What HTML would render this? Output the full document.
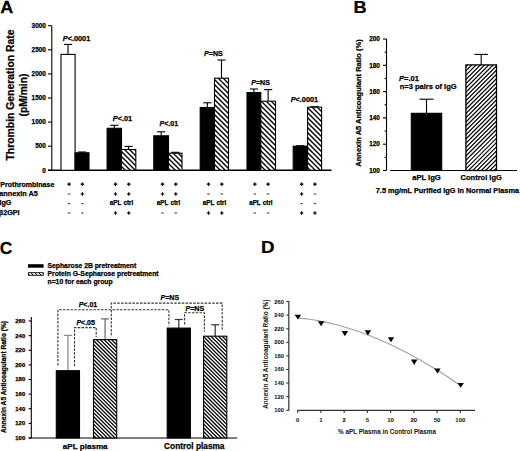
<!DOCTYPE html><html><head><meta charset="utf-8"><style>html,body{margin:0;padding:0;background:#fff;}svg{display:block;}text{font-family:"Liberation Sans", sans-serif;fill:#000;stroke:#000;stroke-width:0.25px;} .lt{stroke-width:0.05px;fill:#1a1a1a;}</style></head><body>
<svg width="520" height="451" viewBox="0 0 520 451">
<rect width="520" height="451" fill="#fff"/>
<text transform="translate(0.3,12.8) scale(1.06,1)" font-size="17" font-weight="bold">A</text>
<line x1="51.8" y1="25.69999999999999" x2="51.8" y2="170.3" stroke="#000" stroke-width="1.1" />
<line x1="48" y1="170.3" x2="51.8" y2="170.3" stroke="#000" stroke-width="1.1" />
<text x="45.8" y="172.5" font-size="6.4" text-anchor="end" font-weight="bold" >0</text>
<line x1="48" y1="146.20000000000002" x2="51.8" y2="146.20000000000002" stroke="#000" stroke-width="1.1" />
<text x="45.8" y="148.4" font-size="6.4" text-anchor="end" font-weight="bold" >500</text>
<line x1="48" y1="122.10000000000001" x2="51.8" y2="122.10000000000001" stroke="#000" stroke-width="1.1" />
<text x="45.8" y="124.30000000000001" font-size="6.4" text-anchor="end" font-weight="bold" >1000</text>
<line x1="48" y1="98.0" x2="51.8" y2="98.0" stroke="#000" stroke-width="1.1" />
<text x="45.8" y="100.2" font-size="6.4" text-anchor="end" font-weight="bold" >1500</text>
<line x1="48" y1="73.9" x2="51.8" y2="73.9" stroke="#000" stroke-width="1.1" />
<text x="45.8" y="76.10000000000001" font-size="6.4" text-anchor="end" font-weight="bold" >2000</text>
<line x1="48" y1="49.80000000000001" x2="51.8" y2="49.80000000000001" stroke="#000" stroke-width="1.1" />
<text x="45.8" y="52.000000000000014" font-size="6.4" text-anchor="end" font-weight="bold" >2500</text>
<line x1="48" y1="25.69999999999999" x2="51.8" y2="25.69999999999999" stroke="#000" stroke-width="1.1" />
<text x="45.8" y="27.899999999999988" font-size="6.4" text-anchor="end" font-weight="bold" >3000</text>
<line x1="48" y1="170.3" x2="331.5" y2="170.3" stroke="#000" stroke-width="1.4" />
<text transform="translate(14.2,95) rotate(-90)" font-size="10.4" text-anchor="middle" font-weight="bold">Thrombin Generation Rate</text>
<text transform="translate(26.7,95) rotate(-90)" font-size="10.3" text-anchor="middle" font-weight="bold">(pM/min)</text>
<line x1="68.05" y1="54.4" x2="68.05" y2="44.4" stroke="#000" stroke-width="1.1" />
<line x1="63.949999999999996" y1="44.4" x2="72.14999999999999" y2="44.4" stroke="#000" stroke-width="1.1" />
<rect x="61.0" y="54.4" width="14.099999999999994" height="115.9" fill="#fff" stroke="#000" stroke-width="1.1"/>
<line x1="82.05" y1="152.8" x2="82.05" y2="152.0" stroke="#000" stroke-width="1.1" />
<line x1="77.95" y1="152.0" x2="86.14999999999999" y2="152.0" stroke="#000" stroke-width="1.1" />
<rect x="75.1" y="152.8" width="13.900000000000006" height="17.5" fill="#000" stroke="#000" stroke-width="1.1"/>
<line x1="114.3" y1="128.3" x2="114.3" y2="125.3" stroke="#000" stroke-width="1.1" />
<line x1="110.2" y1="125.3" x2="118.39999999999999" y2="125.3" stroke="#000" stroke-width="1.1" />
<rect x="107.1" y="128.3" width="14.400000000000006" height="42.0" fill="#000" stroke="#000" stroke-width="1.1"/>
<line x1="128.65" y1="149.5" x2="128.65" y2="146.4" stroke="#000" stroke-width="1.1" />
<line x1="124.55000000000001" y1="146.4" x2="132.75" y2="146.4" stroke="#000" stroke-width="1.1" />
<clipPath id="c1"><rect x="121.5" y="149.5" width="14.300000000000011" height="20.80000000000001"/></clipPath>
<rect x="121.5" y="149.5" width="14.300000000000011" height="20.80000000000001" fill="#fff"/>
<path clip-path="url(#c1)" d="M97.50,147.50L122.30,172.30M102.50,147.50L127.30,172.30M107.50,147.50L132.30,172.30M112.50,147.50L137.30,172.30M117.50,147.50L142.30,172.30M122.50,147.50L147.30,172.30M127.50,147.50L152.30,172.30M132.50,147.50L157.30,172.30M137.50,147.50L162.30,172.30" stroke="#000" stroke-width="1.35" fill="none"/>
<rect x="121.5" y="149.5" width="14.300000000000011" height="20.80000000000001" fill="none" stroke="#000" stroke-width="1.1"/>
<line x1="161.15" y1="135.8" x2="161.15" y2="131.8" stroke="#000" stroke-width="1.1" />
<line x1="157.05" y1="131.8" x2="165.25" y2="131.8" stroke="#000" stroke-width="1.1" />
<rect x="153.8" y="135.8" width="14.699999999999989" height="34.5" fill="#000" stroke="#000" stroke-width="1.1"/>
<line x1="175.25" y1="153.2" x2="175.25" y2="152.3" stroke="#000" stroke-width="1.1" />
<line x1="171.15" y1="152.3" x2="179.35" y2="152.3" stroke="#000" stroke-width="1.1" />
<clipPath id="c2"><rect x="168.5" y="153.2" width="13.5" height="17.100000000000023"/></clipPath>
<rect x="168.5" y="153.2" width="13.5" height="17.100000000000023" fill="#fff"/>
<path clip-path="url(#c2)" d="M146.20,151.20L167.30,172.30M151.20,151.20L172.30,172.30M156.20,151.20L177.30,172.30M161.20,151.20L182.30,172.30M166.20,151.20L187.30,172.30M171.20,151.20L192.30,172.30M176.20,151.20L197.30,172.30M181.20,151.20L202.30,172.30" stroke="#000" stroke-width="1.35" fill="none"/>
<rect x="168.5" y="153.2" width="13.5" height="17.100000000000023" fill="none" stroke="#000" stroke-width="1.1"/>
<line x1="207.35" y1="107.5" x2="207.35" y2="102.8" stroke="#000" stroke-width="1.1" />
<line x1="203.25" y1="102.8" x2="211.45" y2="102.8" stroke="#000" stroke-width="1.1" />
<rect x="200.2" y="107.5" width="14.300000000000011" height="62.80000000000001" fill="#000" stroke="#000" stroke-width="1.1"/>
<line x1="221.5" y1="78.2" x2="221.5" y2="60" stroke="#000" stroke-width="1.1" />
<line x1="217.4" y1="60" x2="225.6" y2="60" stroke="#000" stroke-width="1.1" />
<clipPath id="c3"><rect x="214.5" y="78.2" width="14.0" height="92.10000000000001"/></clipPath>
<rect x="214.5" y="78.2" width="14.0" height="92.10000000000001" fill="#fff"/>
<path clip-path="url(#c3)" d="M116.20,76.20L212.30,172.30M121.20,76.20L217.30,172.30M126.20,76.20L222.30,172.30M131.20,76.20L227.30,172.30M136.20,76.20L232.30,172.30M141.20,76.20L237.30,172.30M146.20,76.20L242.30,172.30M151.20,76.20L247.30,172.30M156.20,76.20L252.30,172.30M161.20,76.20L257.30,172.30M166.20,76.20L262.30,172.30M171.20,76.20L267.30,172.30M176.20,76.20L272.30,172.30M181.20,76.20L277.30,172.30M186.20,76.20L282.30,172.30M191.20,76.20L287.30,172.30M196.20,76.20L292.30,172.30M201.20,76.20L297.30,172.30M206.20,76.20L302.30,172.30M211.20,76.20L307.30,172.30M216.20,76.20L312.30,172.30M221.20,76.20L317.30,172.30M226.20,76.20L322.30,172.30M231.20,76.20L327.30,172.30" stroke="#000" stroke-width="1.35" fill="none"/>
<rect x="214.5" y="78.2" width="14.0" height="92.10000000000001" fill="none" stroke="#000" stroke-width="1.1"/>
<line x1="253.9" y1="92.5" x2="253.9" y2="89.0" stroke="#000" stroke-width="1.1" />
<line x1="249.8" y1="89.0" x2="258.0" y2="89.0" stroke="#000" stroke-width="1.1" />
<rect x="247.0" y="92.5" width="13.800000000000011" height="77.80000000000001" fill="#000" stroke="#000" stroke-width="1.1"/>
<line x1="268.15" y1="101.2" x2="268.15" y2="89.6" stroke="#000" stroke-width="1.1" />
<line x1="264.04999999999995" y1="89.6" x2="272.25" y2="89.6" stroke="#000" stroke-width="1.1" />
<clipPath id="c4"><rect x="260.8" y="101.2" width="14.699999999999989" height="69.10000000000001"/></clipPath>
<rect x="260.8" y="101.2" width="14.699999999999989" height="69.10000000000001" fill="#fff"/>
<path clip-path="url(#c4)" d="M189.20,99.20L262.30,172.30M194.20,99.20L267.30,172.30M199.20,99.20L272.30,172.30M204.20,99.20L277.30,172.30M209.20,99.20L282.30,172.30M214.20,99.20L287.30,172.30M219.20,99.20L292.30,172.30M224.20,99.20L297.30,172.30M229.20,99.20L302.30,172.30M234.20,99.20L307.30,172.30M239.20,99.20L312.30,172.30M244.20,99.20L317.30,172.30M249.20,99.20L322.30,172.30M254.20,99.20L327.30,172.30M259.20,99.20L332.30,172.30M264.20,99.20L337.30,172.30M269.20,99.20L342.30,172.30M274.20,99.20L347.30,172.30" stroke="#000" stroke-width="1.35" fill="none"/>
<rect x="260.8" y="101.2" width="14.699999999999989" height="69.10000000000001" fill="none" stroke="#000" stroke-width="1.1"/>
<line x1="300.4" y1="146.2" x2="300.4" y2="145.7" stroke="#000" stroke-width="1.1" />
<line x1="296.29999999999995" y1="145.7" x2="304.5" y2="145.7" stroke="#000" stroke-width="1.1" />
<rect x="293.2" y="146.2" width="14.400000000000034" height="24.100000000000023" fill="#000" stroke="#000" stroke-width="1.1"/>
<line x1="314.6" y1="107.2" x2="314.6" y2="106.7" stroke="#000" stroke-width="1.1" />
<line x1="310.5" y1="106.7" x2="318.70000000000005" y2="106.7" stroke="#000" stroke-width="1.1" />
<clipPath id="c5"><rect x="307.6" y="107.2" width="14.0" height="63.10000000000001"/></clipPath>
<rect x="307.6" y="107.2" width="14.0" height="63.10000000000001" fill="#fff"/>
<path clip-path="url(#c5)" d="M240.20,105.20L307.30,172.30M245.20,105.20L312.30,172.30M250.20,105.20L317.30,172.30M255.20,105.20L322.30,172.30M260.20,105.20L327.30,172.30M265.20,105.20L332.30,172.30M270.20,105.20L337.30,172.30M275.20,105.20L342.30,172.30M280.20,105.20L347.30,172.30M285.20,105.20L352.30,172.30M290.20,105.20L357.30,172.30M295.20,105.20L362.30,172.30M300.20,105.20L367.30,172.30M305.20,105.20L372.30,172.30M310.20,105.20L377.30,172.30M315.20,105.20L382.30,172.30M320.20,105.20L387.30,172.30" stroke="#000" stroke-width="1.35" fill="none"/>
<rect x="307.6" y="107.2" width="14.0" height="63.10000000000001" fill="none" stroke="#000" stroke-width="1.1"/>
<text x="62.8" y="40.5" font-size="7.3" text-anchor="start" font-weight="bold"><tspan font-style="italic">P</tspan>&lt;.0001</text>
<text x="112.7" y="121.2" font-size="7.4" text-anchor="start" font-weight="bold"><tspan font-style="italic">P</tspan>&lt;.01</text>
<text x="159.4" y="126.4" font-size="7.1" text-anchor="start" font-weight="bold"><tspan font-style="italic">P</tspan>&lt;.01</text>
<text x="204" y="55.6" font-size="7.1" text-anchor="start" font-weight="bold"><tspan font-style="italic">P</tspan>=NS</text>
<text x="251.2" y="84.7" font-size="7.1" text-anchor="start" font-weight="bold"><tspan font-style="italic">P</tspan>=NS</text>
<text x="290.7" y="102.2" font-size="7.3" text-anchor="start" font-weight="bold"><tspan font-style="italic">P</tspan>&lt;.0001</text>
<text x="0.3" y="187.3" font-size="7.05" text-anchor="start" font-weight="bold" >Prothrombinase</text>
<text x="-0.8" y="196.2" font-size="7.3" text-anchor="start" font-weight="bold" >annexin A5</text>
<text x="-0.6" y="205.3" font-size="7.2" text-anchor="start" font-weight="bold" >IgG</text>
<text x="-1.2" y="214.6" font-size="7.2" text-anchor="start" font-weight="bold" >&#946;2GPI</text>
<path d="M67.30,184.20 H70.90 M69.10,182.40 V186.00" stroke="#000" stroke-width="1.2"/>
<path d="M80.60,184.20 H84.20 M82.40,182.40 V186.00" stroke="#000" stroke-width="1.2"/>
<path d="M67.80,194.00 H70.40" stroke="#333" stroke-width="1"/>
<path d="M80.60,194.00 H84.20 M82.40,192.20 V195.80" stroke="#000" stroke-width="1.2"/>
<path d="M67.80,203.70 H70.40" stroke="#333" stroke-width="1"/>
<path d="M81.10,203.70 H83.70" stroke="#333" stroke-width="1"/>
<path d="M67.80,213.00 H70.40" stroke="#333" stroke-width="1"/>
<path d="M81.10,213.00 H83.70" stroke="#333" stroke-width="1"/>
<path d="M113.70,184.20 H117.30 M115.50,182.40 V186.00" stroke="#000" stroke-width="1.2"/>
<path d="M127.00,184.20 H130.60 M128.80,182.40 V186.00" stroke="#000" stroke-width="1.2"/>
<path d="M113.70,194.00 H117.30 M115.50,192.20 V195.80" stroke="#000" stroke-width="1.2"/>
<path d="M127.00,194.00 H130.60 M128.80,192.20 V195.80" stroke="#000" stroke-width="1.2"/>
<text x="121.4" y="204.7" font-size="6.3" text-anchor="end" font-weight="bold" >aPL</text>
<text x="123.5" y="204.7" font-size="6.3" text-anchor="start" font-weight="bold" >ctrl</text>
<path d="M113.70,213.00 H117.30 M115.50,211.20 V214.80" stroke="#000" stroke-width="1.2"/>
<path d="M127.00,213.00 H130.60 M128.80,211.20 V214.80" stroke="#000" stroke-width="1.2"/>
<path d="M160.70,184.20 H164.30 M162.50,182.40 V186.00" stroke="#000" stroke-width="1.2"/>
<path d="M174.00,184.20 H177.60 M175.80,182.40 V186.00" stroke="#000" stroke-width="1.2"/>
<path d="M160.70,194.00 H164.30 M162.50,192.20 V195.80" stroke="#000" stroke-width="1.2"/>
<path d="M174.00,194.00 H177.60 M175.80,192.20 V195.80" stroke="#000" stroke-width="1.2"/>
<text x="168.4" y="204.7" font-size="6.3" text-anchor="end" font-weight="bold" >aPL</text>
<text x="170.5" y="204.7" font-size="6.3" text-anchor="start" font-weight="bold" >ctrl</text>
<path d="M161.20,213.00 H163.80" stroke="#333" stroke-width="1"/>
<path d="M174.50,213.00 H177.10" stroke="#333" stroke-width="1"/>
<path d="M206.70,184.20 H210.30 M208.50,182.40 V186.00" stroke="#000" stroke-width="1.2"/>
<path d="M220.00,184.20 H223.60 M221.80,182.40 V186.00" stroke="#000" stroke-width="1.2"/>
<path d="M207.20,194.00 H209.80" stroke="#333" stroke-width="1"/>
<path d="M220.50,194.00 H223.10" stroke="#333" stroke-width="1"/>
<text x="214.4" y="204.7" font-size="6.3" text-anchor="end" font-weight="bold" >aPL</text>
<text x="216.5" y="204.7" font-size="6.3" text-anchor="start" font-weight="bold" >ctrl</text>
<path d="M206.70,213.00 H210.30 M208.50,211.20 V214.80" stroke="#000" stroke-width="1.2"/>
<path d="M220.00,213.00 H223.60 M221.80,211.20 V214.80" stroke="#000" stroke-width="1.2"/>
<path d="M253.00,184.20 H256.60 M254.80,182.40 V186.00" stroke="#000" stroke-width="1.2"/>
<path d="M266.30,184.20 H269.90 M268.10,182.40 V186.00" stroke="#000" stroke-width="1.2"/>
<path d="M253.50,194.00 H256.10" stroke="#333" stroke-width="1"/>
<path d="M266.80,194.00 H269.40" stroke="#333" stroke-width="1"/>
<text x="260.7" y="204.7" font-size="6.3" text-anchor="end" font-weight="bold" >aPL</text>
<text x="262.8" y="204.7" font-size="6.3" text-anchor="start" font-weight="bold" >ctrl</text>
<path d="M253.50,213.00 H256.10" stroke="#333" stroke-width="1"/>
<path d="M266.80,213.00 H269.40" stroke="#333" stroke-width="1"/>
<path d="M299.80,184.20 H303.40 M301.60,182.40 V186.00" stroke="#000" stroke-width="1.2"/>
<path d="M313.10,184.20 H316.70 M314.90,182.40 V186.00" stroke="#000" stroke-width="1.2"/>
<path d="M299.80,194.00 H303.40 M301.60,192.20 V195.80" stroke="#000" stroke-width="1.2"/>
<path d="M313.60,194.00 H316.20" stroke="#333" stroke-width="1"/>
<path d="M300.30,203.70 H302.90" stroke="#333" stroke-width="1"/>
<path d="M313.60,203.70 H316.20" stroke="#333" stroke-width="1"/>
<path d="M299.80,213.00 H303.40 M301.60,211.20 V214.80" stroke="#000" stroke-width="1.2"/>
<path d="M313.10,213.00 H316.70 M314.90,211.20 V214.80" stroke="#000" stroke-width="1.2"/>
<text transform="translate(353.6,12.9) scale(1.1,1)" font-size="16.5" font-weight="bold">B</text>
<line x1="386.5" y1="39.0" x2="386.5" y2="170.5" stroke="#000" stroke-width="1.1" />
<line x1="383" y1="170.5" x2="386.5" y2="170.5" stroke="#000" stroke-width="1.1" />
<text x="379.8" y="172.7" font-size="6.4" text-anchor="end" font-weight="bold" >100</text>
<line x1="384.6" y1="157.35" x2="386.5" y2="157.35" stroke="#000" stroke-width="1.1" />
<line x1="383" y1="144.2" x2="386.5" y2="144.2" stroke="#000" stroke-width="1.1" />
<text x="379.8" y="146.39999999999998" font-size="6.4" text-anchor="end" font-weight="bold" >120</text>
<line x1="384.6" y1="131.05" x2="386.5" y2="131.05" stroke="#000" stroke-width="1.1" />
<line x1="383" y1="117.9" x2="386.5" y2="117.9" stroke="#000" stroke-width="1.1" />
<text x="379.8" y="120.10000000000001" font-size="6.4" text-anchor="end" font-weight="bold" >140</text>
<line x1="384.6" y1="104.75" x2="386.5" y2="104.75" stroke="#000" stroke-width="1.1" />
<line x1="383" y1="91.60000000000001" x2="386.5" y2="91.60000000000001" stroke="#000" stroke-width="1.1" />
<text x="379.8" y="93.80000000000001" font-size="6.4" text-anchor="end" font-weight="bold" >160</text>
<line x1="384.6" y1="78.45" x2="386.5" y2="78.45" stroke="#000" stroke-width="1.1" />
<line x1="383" y1="65.30000000000001" x2="386.5" y2="65.30000000000001" stroke="#000" stroke-width="1.1" />
<text x="379.8" y="67.50000000000001" font-size="6.4" text-anchor="end" font-weight="bold" >180</text>
<line x1="384.6" y1="52.150000000000006" x2="386.5" y2="52.150000000000006" stroke="#000" stroke-width="1.1" />
<line x1="383" y1="39.0" x2="386.5" y2="39.0" stroke="#000" stroke-width="1.1" />
<text x="379.8" y="41.2" font-size="6.4" text-anchor="end" font-weight="bold" >200</text>
<line x1="390.3" y1="170.5" x2="517" y2="170.5" stroke="#000" stroke-width="1.2" />
<text transform="translate(360.6,103) rotate(-90)" font-size="7.5" text-anchor="middle" font-weight="bold">Annexin A5 Anticoagulant Ratio (%)</text>
<line x1="426.5" y1="113.3" x2="426.5" y2="99.2" stroke="#000" stroke-width="1.1" />
<line x1="419.5" y1="99.2" x2="433.5" y2="99.2" stroke="#000" stroke-width="1.1" />
<rect x="411.3" y="113.3" width="30.4" height="57.2" fill="#000" stroke="#000" stroke-width="1.1"/>
<line x1="481.2" y1="64.9" x2="481.2" y2="54.4" stroke="#000" stroke-width="1.1" />
<line x1="474.4" y1="54.4" x2="488.0" y2="54.4" stroke="#000" stroke-width="1.1" />
<clipPath id="c6"><rect x="465.9" y="64.9" width="30.6" height="105.6"/></clipPath>
<rect x="465.9" y="64.9" width="30.6" height="105.6" fill="#fff"/>
<path clip-path="url(#c6)" d="M465.34,62.90L355.74,172.50M469.60,62.90L360.00,172.50M473.86,62.90L364.26,172.50M478.12,62.90L368.52,172.50M482.38,62.90L372.78,172.50M486.64,62.90L377.04,172.50M490.90,62.90L381.30,172.50M495.16,62.90L385.56,172.50M499.42,62.90L389.82,172.50M503.68,62.90L394.08,172.50M507.94,62.90L398.34,172.50M512.20,62.90L402.60,172.50M516.46,62.90L406.86,172.50M520.72,62.90L411.12,172.50M524.98,62.90L415.38,172.50M529.24,62.90L419.64,172.50M533.50,62.90L423.90,172.50M537.76,62.90L428.16,172.50M542.02,62.90L432.42,172.50M546.28,62.90L436.68,172.50M550.54,62.90L440.94,172.50M554.80,62.90L445.20,172.50M559.06,62.90L449.46,172.50M563.32,62.90L453.72,172.50M567.58,62.90L457.98,172.50M571.84,62.90L462.24,172.50M576.10,62.90L466.50,172.50M580.36,62.90L470.76,172.50M584.62,62.90L475.02,172.50M588.88,62.90L479.28,172.50M593.14,62.90L483.54,172.50M597.40,62.90L487.80,172.50M601.66,62.90L492.06,172.50M605.92,62.90L496.32,172.50" stroke="#000" stroke-width="1.2" fill="none"/>
<rect x="465.9" y="64.9" width="30.6" height="105.6" fill="none" stroke="#000" stroke-width="1.3"/>
<text x="399" y="80.6" font-size="7.5" text-anchor="start" font-weight="bold"><tspan font-style="italic">P</tspan>=.01</text>
<text x="399.7" y="88.9" font-size="7.5" text-anchor="start" font-weight="bold" >n=3 pairs of IgG</text>
<text x="426.5" y="180.2" font-size="7.6" text-anchor="middle" font-weight="bold" >aPL IgG</text>
<text x="481.2" y="180.2" font-size="7.5" text-anchor="middle" font-weight="bold" >Control IgG</text>
<text x="375.8" y="193.2" font-size="7.34" text-anchor="start" font-weight="bold" >7.5 mg/mL Purified IgG in Normal Plasma</text>
<text transform="translate(-0.2,253.6) scale(1.02,1)" font-size="17" font-weight="bold">C</text>
<rect x="28.0" y="264.2" width="15.6" height="3.5" fill="#000" stroke="none" stroke-width="0"/>
<clipPath id="c7"><rect x="28.45" y="272.7" width="14.8" height="2.6"/></clipPath>
<rect x="28.45" y="272.7" width="14.8" height="2.6" fill="#fff"/>
<path clip-path="url(#c7)" d="M21.10,270.70L27.70,277.30M25.00,270.70L31.60,277.30M28.90,270.70L35.50,277.30M32.80,270.70L39.40,277.30M36.70,270.70L43.30,277.30M40.60,270.70L47.20,277.30M44.50,270.70L51.10,277.30" stroke="#000" stroke-width="1.0" fill="none"/>
<rect x="28.45" y="272.7" width="14.8" height="2.6" fill="none" stroke="#000" stroke-width="0.9"/>
<text x="47.5" y="268.1" font-size="6.8" text-anchor="start" font-weight="bold" >Sepharose 2B pretreatment</text>
<text x="47.5" y="276.1" font-size="6.8" text-anchor="start" font-weight="bold" >Protein G-Sepharose pretreatment</text>
<text x="47.5" y="284.0" font-size="6.8" text-anchor="start" font-weight="bold" >n=10 for each group</text>
<line x1="31.3" y1="317" x2="31.3" y2="438.2" stroke="#000" stroke-width="1.1" />
<line x1="28.6" y1="438.0" x2="31.3" y2="438.0" stroke="#000" stroke-width="1.1" />
<text x="25.2" y="440.0" font-size="5.9" text-anchor="end" font-weight="bold" >100</text>
<line x1="28.6" y1="423.374" x2="31.3" y2="423.374" stroke="#000" stroke-width="1.1" />
<text x="25.2" y="425.374" font-size="5.9" text-anchor="end" font-weight="bold" >120</text>
<line x1="28.6" y1="408.748" x2="31.3" y2="408.748" stroke="#000" stroke-width="1.1" />
<text x="25.2" y="410.748" font-size="5.9" text-anchor="end" font-weight="bold" >140</text>
<line x1="28.6" y1="394.122" x2="31.3" y2="394.122" stroke="#000" stroke-width="1.1" />
<text x="25.2" y="396.122" font-size="5.9" text-anchor="end" font-weight="bold" >160</text>
<line x1="28.6" y1="379.496" x2="31.3" y2="379.496" stroke="#000" stroke-width="1.1" />
<text x="25.2" y="381.496" font-size="5.9" text-anchor="end" font-weight="bold" >180</text>
<line x1="28.6" y1="364.87" x2="31.3" y2="364.87" stroke="#000" stroke-width="1.1" />
<text x="25.2" y="366.87" font-size="5.9" text-anchor="end" font-weight="bold" >200</text>
<line x1="28.6" y1="350.244" x2="31.3" y2="350.244" stroke="#000" stroke-width="1.1" />
<text x="25.2" y="352.244" font-size="5.9" text-anchor="end" font-weight="bold" >220</text>
<line x1="28.6" y1="335.618" x2="31.3" y2="335.618" stroke="#000" stroke-width="1.1" />
<text x="25.2" y="337.618" font-size="5.9" text-anchor="end" font-weight="bold" >240</text>
<line x1="28.6" y1="320.992" x2="31.3" y2="320.992" stroke="#000" stroke-width="1.1" />
<text x="25.2" y="322.992" font-size="5.9" text-anchor="end" font-weight="bold" >260</text>
<line x1="28.6" y1="438" x2="237.2" y2="438" stroke="#000" stroke-width="1.2" />
<text transform="translate(6.1,377) rotate(-90)" font-size="6.6" text-anchor="middle" font-weight="bold">Annexin A5 Anticoagulant Ratio (%)</text>
<line x1="67.89999999999999" y1="370.7" x2="67.89999999999999" y2="335.4" stroke="#8a8a8a" stroke-width="1.2" />
<line x1="63.89999999999999" y1="335.4" x2="71.89999999999999" y2="335.4" stroke="#8a8a8a" stroke-width="1.2" />
<rect x="56.3" y="370.7" width="23.2" height="67.30000000000001" fill="#000" stroke="#000" stroke-width="1.1"/>
<line x1="105.1" y1="339.6" x2="105.1" y2="318.9" stroke="#666" stroke-width="1.2" />
<line x1="101.1" y1="318.9" x2="109.1" y2="318.9" stroke="#666" stroke-width="1.2" />
<clipPath id="c8"><rect x="93.5" y="339.6" width="23.2" height="98.39999999999998"/></clipPath>
<rect x="93.5" y="339.6" width="23.2" height="98.39999999999998" fill="#fff"/>
<path clip-path="url(#c8)" d="M-8.20,337.60L94.20,440.00M-4.40,337.60L98.00,440.00M-0.60,337.60L101.80,440.00M3.20,337.60L105.60,440.00M7.00,337.60L109.40,440.00M10.80,337.60L113.20,440.00M14.60,337.60L117.00,440.00M18.40,337.60L120.80,440.00M22.20,337.60L124.60,440.00M26.00,337.60L128.40,440.00M29.80,337.60L132.20,440.00M33.60,337.60L136.00,440.00M37.40,337.60L139.80,440.00M41.20,337.60L143.60,440.00M45.00,337.60L147.40,440.00M48.80,337.60L151.20,440.00M52.60,337.60L155.00,440.00M56.40,337.60L158.80,440.00M60.20,337.60L162.60,440.00M64.00,337.60L166.40,440.00M67.80,337.60L170.20,440.00M71.60,337.60L174.00,440.00M75.40,337.60L177.80,440.00M79.20,337.60L181.60,440.00M83.00,337.60L185.40,440.00M86.80,337.60L189.20,440.00M90.60,337.60L193.00,440.00M94.40,337.60L196.80,440.00M98.20,337.60L200.60,440.00M102.00,337.60L204.40,440.00M105.80,337.60L208.20,440.00M109.60,337.60L212.00,440.00M113.40,337.60L215.80,440.00M117.20,337.60L219.60,440.00" stroke="#000" stroke-width="1.25" fill="none"/>
<rect x="93.5" y="339.6" width="23.2" height="98.39999999999998" fill="none" stroke="#000" stroke-width="1.1"/>
<line x1="178.79999999999998" y1="328.1" x2="178.79999999999998" y2="319.5" stroke="#333" stroke-width="1.2" />
<line x1="174.79999999999998" y1="319.5" x2="182.79999999999998" y2="319.5" stroke="#333" stroke-width="1.2" />
<rect x="167.2" y="328.1" width="23.2" height="109.89999999999998" fill="#000" stroke="#000" stroke-width="1.1"/>
<line x1="215.2" y1="336.2" x2="215.2" y2="324.8" stroke="#333" stroke-width="1.2" />
<line x1="211.2" y1="324.8" x2="219.2" y2="324.8" stroke="#333" stroke-width="1.2" />
<clipPath id="c9"><rect x="203.6" y="336.2" width="23.2" height="101.80000000000001"/></clipPath>
<rect x="203.6" y="336.2" width="23.2" height="101.80000000000001" fill="#fff"/>
<path clip-path="url(#c9)" d="M98.60,334.20L204.40,440.00M102.40,334.20L208.20,440.00M106.20,334.20L212.00,440.00M110.00,334.20L215.80,440.00M113.80,334.20L219.60,440.00M117.60,334.20L223.40,440.00M121.40,334.20L227.20,440.00M125.20,334.20L231.00,440.00M129.00,334.20L234.80,440.00M132.80,334.20L238.60,440.00M136.60,334.20L242.40,440.00M140.40,334.20L246.20,440.00M144.20,334.20L250.00,440.00M148.00,334.20L253.80,440.00M151.80,334.20L257.60,440.00M155.60,334.20L261.40,440.00M159.40,334.20L265.20,440.00M163.20,334.20L269.00,440.00M167.00,334.20L272.80,440.00M170.80,334.20L276.60,440.00M174.60,334.20L280.40,440.00M178.40,334.20L284.20,440.00M182.20,334.20L288.00,440.00M186.00,334.20L291.80,440.00M189.80,334.20L295.60,440.00M193.60,334.20L299.40,440.00M197.40,334.20L303.20,440.00M201.20,334.20L307.00,440.00M205.00,334.20L310.80,440.00M208.80,334.20L314.60,440.00M212.60,334.20L318.40,440.00M216.40,334.20L322.20,440.00M220.20,334.20L326.00,440.00M224.00,334.20L329.80,440.00M227.80,334.20L333.60,440.00" stroke="#000" stroke-width="1.25" fill="none"/>
<rect x="203.6" y="336.2" width="23.2" height="101.80000000000001" fill="none" stroke="#000" stroke-width="1.1"/>
<path d="M57.9,365.4 L57.9,309.7 L168.9,309.7 L168.9,326.0" fill="none" stroke="#333" stroke-width="1.1" stroke-dasharray="2.5,1.3"/>
<path d="M74.5,366.2 L74.5,327.6 L96.2,327.6 L96.2,337.2" fill="none" stroke="#333" stroke-width="1.1" stroke-dasharray="2.5,1.3"/>
<path d="M111.3,335.2 L111.3,303.1 L222.2,303.1 L222.2,330.5" fill="none" stroke="#333" stroke-width="1.1" stroke-dasharray="2.5,1.3"/>
<path d="M184.6,324.4 L184.6,312.7 L204.4,312.7 L204.4,331.7" fill="none" stroke="#333" stroke-width="1.1" stroke-dasharray="2.5,1.3"/>
<text x="78.7" y="306.6" font-size="7.0" text-anchor="start" font-weight="bold"><tspan font-style="italic">P</tspan>&lt;.01</text>
<text x="76.4" y="324.8" font-size="7.0" text-anchor="start" font-weight="bold"><tspan font-style="italic">P</tspan>&lt;.05</text>
<text x="160.6" y="299.8" font-size="7.0" text-anchor="start" font-weight="bold"><tspan font-style="italic">P</tspan>=NS</text>
<text x="185.6" y="310.8" font-size="7.0" text-anchor="start" font-weight="bold"><tspan font-style="italic">P</tspan>=NS</text>
<text x="85.2" y="448.7" font-size="8.1" text-anchor="middle" font-weight="bold" >aPL plasma</text>
<text x="194.3" y="448.8" font-size="8.3" text-anchor="middle" font-weight="bold" >Control plasma</text>
<text transform="translate(260.9,253.4) scale(1.1,1)" font-size="17" font-weight="bold">D</text>
<line x1="288.8" y1="301.05999999999995" x2="288.8" y2="410.7" stroke="#333" stroke-width="1.2" />
<line x1="286.3" y1="410.2" x2="288.8" y2="410.2" stroke="#333" stroke-width="1.1" />
<text x="284.0" y="412.2" font-size="5.8" text-anchor="end" font-weight="bold" class="lt">100</text>
<line x1="286.3" y1="396.62" x2="288.8" y2="396.62" stroke="#333" stroke-width="1.1" />
<text x="284.0" y="398.62" font-size="5.8" text-anchor="end" font-weight="bold" class="lt">120</text>
<line x1="286.3" y1="383.03999999999996" x2="288.8" y2="383.03999999999996" stroke="#333" stroke-width="1.1" />
<text x="284.0" y="385.03999999999996" font-size="5.8" text-anchor="end" font-weight="bold" class="lt">140</text>
<line x1="286.3" y1="369.46" x2="288.8" y2="369.46" stroke="#333" stroke-width="1.1" />
<text x="284.0" y="371.46" font-size="5.8" text-anchor="end" font-weight="bold" class="lt">160</text>
<line x1="286.3" y1="355.88" x2="288.8" y2="355.88" stroke="#333" stroke-width="1.1" />
<text x="284.0" y="357.88" font-size="5.8" text-anchor="end" font-weight="bold" class="lt">180</text>
<line x1="286.3" y1="342.29999999999995" x2="288.8" y2="342.29999999999995" stroke="#333" stroke-width="1.1" />
<text x="284.0" y="344.29999999999995" font-size="5.8" text-anchor="end" font-weight="bold" class="lt">200</text>
<line x1="286.3" y1="328.71999999999997" x2="288.8" y2="328.71999999999997" stroke="#333" stroke-width="1.1" />
<text x="284.0" y="330.71999999999997" font-size="5.8" text-anchor="end" font-weight="bold" class="lt">220</text>
<line x1="286.3" y1="315.14" x2="288.8" y2="315.14" stroke="#333" stroke-width="1.1" />
<text x="284.0" y="317.14" font-size="5.8" text-anchor="end" font-weight="bold" class="lt">240</text>
<line x1="286.3" y1="301.55999999999995" x2="288.8" y2="301.55999999999995" stroke="#333" stroke-width="1.1" />
<text x="284.0" y="303.55999999999995" font-size="5.8" text-anchor="end" font-weight="bold" class="lt">260</text>
<line x1="297.1" y1="410.3" x2="475.0" y2="410.3" stroke="#333" stroke-width="1.3" />
<line x1="297.7" y1="410.3" x2="297.7" y2="413.0" stroke="#333" stroke-width="1.1" />
<text x="297.7" y="421.5" font-size="6.0" text-anchor="middle" font-weight="bold" class="lt">0</text>
<line x1="320.93" y1="410.3" x2="320.93" y2="413.0" stroke="#333" stroke-width="1.1" />
<text x="320.93" y="421.5" font-size="6.0" text-anchor="middle" font-weight="bold" class="lt">1</text>
<line x1="344.15999999999997" y1="410.3" x2="344.15999999999997" y2="413.0" stroke="#333" stroke-width="1.1" />
<text x="344.15999999999997" y="421.5" font-size="6.0" text-anchor="middle" font-weight="bold" class="lt">2</text>
<line x1="367.39" y1="410.3" x2="367.39" y2="413.0" stroke="#333" stroke-width="1.1" />
<text x="367.39" y="421.5" font-size="6.0" text-anchor="middle" font-weight="bold" class="lt">5</text>
<line x1="390.62" y1="410.3" x2="390.62" y2="413.0" stroke="#333" stroke-width="1.1" />
<text x="390.62" y="421.5" font-size="6.0" text-anchor="middle" font-weight="bold" class="lt">10</text>
<line x1="413.85" y1="410.3" x2="413.85" y2="413.0" stroke="#333" stroke-width="1.1" />
<text x="413.85" y="421.5" font-size="6.0" text-anchor="middle" font-weight="bold" class="lt">20</text>
<line x1="437.08" y1="410.3" x2="437.08" y2="413.0" stroke="#333" stroke-width="1.1" />
<text x="437.08" y="421.5" font-size="6.0" text-anchor="middle" font-weight="bold" class="lt">50</text>
<line x1="460.31" y1="410.3" x2="460.31" y2="413.0" stroke="#333" stroke-width="1.1" />
<text x="460.31" y="421.5" font-size="6.0" text-anchor="middle" font-weight="bold" class="lt">100</text>
<text x="338.1" y="434.2" font-size="6.31" text-anchor="start" font-weight="bold" class="lt">% aPL Plasma in Control Plasma</text>
<text class="lt" transform="translate(268.2,354.2) rotate(-90)" font-size="6.45" text-anchor="middle" font-weight="bold">Annexin A5 Anticoagulant Ratio (%)</text>
<polyline points="297.8,317.92 301.1,318.24 304.4,318.62 307.8,319.04 311.1,319.52 314.4,320.04 317.7,320.62 321.0,321.24 324.4,321.91 327.7,322.63 331.0,323.39 334.3,324.20 337.6,325.06 341.0,325.96 344.3,326.91 347.6,327.91 350.9,328.95 354.2,330.03 357.6,331.16 360.9,332.33 364.2,333.54 367.5,334.80 370.8,336.10 374.2,337.44 377.5,338.82 380.8,340.24 384.1,341.70 387.5,343.20 390.8,344.75 394.1,346.33 397.4,347.95 400.7,349.60 404.1,351.30 407.4,353.03 410.7,354.80 414.0,356.61 417.3,358.45 420.7,360.32 424.0,362.24 427.3,364.18 430.6,366.17 433.9,368.18 437.3,370.23 440.6,372.31 443.9,374.42 447.2,376.57 450.5,378.75 453.9,380.96 457.2,383.20 460.5,385.47" fill="none" stroke="#a0a0a0" stroke-width="1.1"/>
<path d="M294.65,314.70 L301.15,314.70 L297.90,319.50 Z" fill="#000"/>
<path d="M317.85,321.30 L324.35,321.30 L321.10,326.20 Z" fill="#000"/>
<path d="M341.65,331.10 L348.15,331.10 L344.90,336.20 Z" fill="#000"/>
<path d="M364.65,330.30 L371.15,330.30 L367.90,335.60 Z" fill="#000"/>
<path d="M387.75,337.20 L394.25,337.20 L391.00,342.20 Z" fill="#000"/>
<path d="M410.95,359.60 L417.45,359.60 L414.20,364.90 Z" fill="#000"/>
<path d="M434.15,368.40 L440.65,368.40 L437.40,373.40 Z" fill="#000"/>
<path d="M457.45,382.90 L463.95,382.90 L460.70,387.80 Z" fill="#000"/>
</svg></body></html>
